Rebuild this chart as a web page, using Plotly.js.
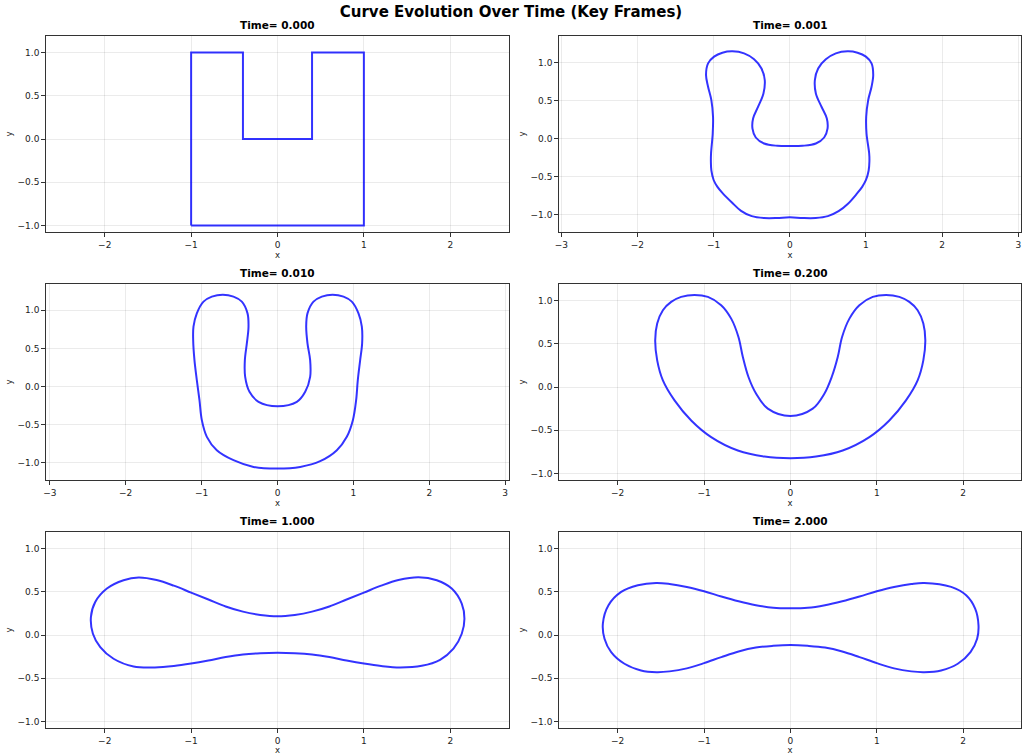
<!DOCTYPE html>
<html>
<head>
<meta charset="utf-8">
<script src="https://cdn.plot.ly/plotly-3.0.1.min.js"></script>
<style>html,body{margin:0;padding:0;background:#fff;}#chart{width:1022px;height:755px;}</style>
</head>
<body>
<div id="chart"></div>
<script>
// Key-frame times
const frameTitles = ["Time= 0.000", "Time= 0.001", "Time= 0.010", "Time= 0.200", "Time= 1.000", "Time= 2.000"];

// Frame t = 0.000
const x_t0000 = [-1, -1, -0.4, -0.4, 0.4, 0.4, 1, 1, 0, -1];
const y_t0000 = [-1, 1, 1, 0, 0, 1, 1, -1, -1, -1];

// Frame t = 0.001
const x_t0001 = [0, -0.17, -0.34, -0.5, -0.64, -0.76, -0.88, -0.95, -1.0, -1.03, -1.036, -1.034, -1.012, -1.008, -1.03, -1.073, -1.1, -1.073, -0.994, -0.885, -0.753, -0.6, -0.469, -0.372, -0.329, -0.346, -0.416, -0.482, -0.49, -0.447, -0.337, -0.162, 0, 0.166, 0.342, 0.451, 0.495, 0.486, 0.416, 0.342, 0.329, 0.372, 0.473, 0.604, 0.758, 0.889, 0.999, 1.073, 1.095, 1.073, 1.029, 1.003, 1.007, 1.042, 1.045, 1.035, 1.0, 0.95, 0.88, 0.76, 0.64, 0.5, 0.34, 0.17, 0];
const y_t0001 = [-1.035, -1.045, -1.045, -1.02, -0.95, -0.84, -0.72, -0.635, -0.545, -0.42, -0.30, -0.197, 0.066, 0.285, 0.504, 0.68, 0.833, 0.987, 1.075, 1.127, 1.145, 1.118, 1.04, 0.92, 0.768, 0.592, 0.417, 0.263, 0.13, 0.013, -0.066, -0.096, -0.1, -0.096, -0.066, 0.013, 0.13, 0.263, 0.417, 0.592, 0.768, 0.92, 1.04, 1.118, 1.145, 1.127, 1.075, 0.987, 0.833, 0.68, 0.504, 0.285, 0.066, -0.197, -0.30, -0.42, -0.545, -0.635, -0.725, -0.86, -0.955, -1.02, -1.045, -1.045, -1.035];

// Frame t = 0.010
const x_t0010 = [0, -0.316, -0.58, -0.8, -0.931, -0.997, -1.028, -1.063, -1.094, -1.111, -1.107, -1.063, -0.975, -0.865, -0.72, -0.58, -0.47, -0.395, -0.382, -0.404, -0.43, -0.426, -0.369, -0.25, 0, 0.255, 0.365, 0.43, 0.43, 0.395, 0.378, 0.395, 0.474, 0.584, 0.725, 0.87, 0.979, 1.067, 1.111, 1.115, 1.089, 1.058, 1.036, 0.993, 0.913, 0.782, 0.562, 0.299, 0];
const y_t0010 = [-1.079, -1.057, -0.969, -0.838, -0.662, -0.443, -0.18, 0.083, 0.346, 0.61, 0.785, 0.96, 1.114, 1.18, 1.206, 1.18, 1.114, 0.96, 0.785, 0.566, 0.346, 0.127, -0.07, -0.202, -0.259, -0.202, -0.07, 0.127, 0.346, 0.566, 0.785, 0.96, 1.114, 1.18, 1.206, 1.18, 1.114, 0.96, 0.785, 0.566, 0.346, 0.083, -0.18, -0.443, -0.662, -0.838, -0.982, -1.057, -1.079];

// Frame t = 0.200
const x_t0200 = [0, -0.301, -0.609, -0.918, -1.149, -1.342, -1.477, -1.543, -1.566, -1.543, -1.477, -1.381, -1.265, -1.111, -0.956, -0.802, -0.686, -0.602, -0.551, -0.486, -0.397, -0.262, 0, 0.258, 0.393, 0.478, 0.548, 0.598, 0.683, 0.798, 0.953, 1.107, 1.261, 1.377, 1.473, 1.539, 1.562, 1.539, 1.473, 1.338, 1.145, 0.914, 0.605, 0.297, 0];
const y_t0200 = [-0.822, -0.803, -0.733, -0.578, -0.386, -0.154, 0.077, 0.308, 0.54, 0.733, 0.887, 0.983, 1.041, 1.064, 1.041, 0.945, 0.79, 0.578, 0.347, 0.116, -0.077, -0.25, -0.335, -0.25, -0.077, 0.116, 0.347, 0.578, 0.79, 0.945, 1.041, 1.064, 1.041, 0.983, 0.887, 0.733, 0.54, 0.308, 0.077, -0.154, -0.386, -0.578, -0.733, -0.803, -0.822];

// Frame t = 1.000
const x_t1000 = [0, -0.2, -0.4, -0.6, -0.8, -1.0, -1.2, -1.4, -1.608, -1.782, -1.975, -2.11, -2.16, -2.137, -2.052, -1.898, -1.666, -1.42, -1.2, -1.0, -0.8, -0.6, -0.4, -0.2, 0, 0.2, 0.4, 0.6, 0.8, 1.0, 1.2, 1.42, 1.67, 1.882, 2.037, 2.133, 2.164, 2.133, 2.017, 1.844, 1.632, 1.4, 1.2, 1.0, 0.8, 0.6, 0.4, 0.2, 0];
const y_t1000 = [0.216, 0.232, 0.27, 0.33, 0.41, 0.49, 0.57, 0.635, 0.664, 0.633, 0.537, 0.382, 0.208, 0.015, -0.139, -0.274, -0.363, -0.374, -0.358, -0.33, -0.295, -0.255, -0.225, -0.21, -0.205, -0.21, -0.225, -0.255, -0.295, -0.33, -0.358, -0.374, -0.355, -0.286, -0.158, 0.015, 0.189, 0.363, 0.537, 0.633, 0.668, 0.635, 0.57, 0.49, 0.41, 0.33, 0.27, 0.232, 0.216];

// Frame t = 2.000
const x_t2000 = [0, -0.2, -0.4, -0.6, -0.8, -1.0, -1.2, -1.4, -1.555, -1.767, -1.96, -2.107, -2.172, -2.153, -2.076, -1.922, -1.73, -1.55, -1.4, -1.2, -1.0, -0.8, -0.6, -0.4, -0.2, 0, 0.2, 0.4, 0.6, 0.8, 1.0, 1.2, 1.4, 1.55, 1.745, 1.938, 2.085, 2.162, 2.178, 2.139, 2.035, 1.861, 1.55, 1.4, 1.2, 1.0, 0.8, 0.6, 0.4, 0.2, 0];
const y_t2000 = [0.309, 0.315, 0.345, 0.39, 0.445, 0.505, 0.555, 0.59, 0.602, 0.575, 0.498, 0.344, 0.131, -0.042, -0.197, -0.332, -0.409, -0.429, -0.42, -0.385, -0.325, -0.255, -0.19, -0.145, -0.125, -0.116, -0.125, -0.145, -0.19, -0.255, -0.325, -0.385, -0.42, -0.429, -0.409, -0.332, -0.197, -0.042, 0.112, 0.305, 0.459, 0.556, 0.602, 0.59, 0.555, 0.505, 0.445, 0.39, 0.345, 0.315, 0.309];

// Axis tick values
const xTicksNarrow = [-2, -1, 0, 1, 2];
const xTicksWide = [-3, -2, -1, 0, 1, 2, 3];
const yTicks = [-1.0, -0.5, 0.0, 0.5, 1.0];

const frames = [
  {x: x_t0000, y: y_t0000, shape: 'linear'},
  {x: x_t0001, y: y_t0001, shape: 'spline'},
  {x: x_t0010, y: y_t0010, shape: 'spline'},
  {x: x_t0200, y: y_t0200, shape: 'spline'},
  {x: x_t1000, y: y_t1000, shape: 'spline'},
  {x: x_t2000, y: y_t2000, shape: 'spline'}
];

const W = 1022, H = 755;
const cols = [[46, 509], [559, 1021]];
const rows = [[36, 232], [284, 480], [532, 728]];
const xRanges = [[-2.68, 2.68], [-3.03, 3.035], [-3.05, 3.05], [-2.68, 2.67], [-2.68, 2.68], [-2.68, 2.67]];
const yRanges = [[-1.074, 1.19], [-1.228, 1.346], [-1.229, 1.346], [-1.074, 1.19], [-1.074, 1.19], [-1.074, 1.19]];
const xTickSets = [xTicksNarrow, xTicksWide, xTicksWide, xTicksNarrow, xTicksNarrow, xTicksNarrow];

const font = 'DejaVu Sans, Arial, sans-serif';
const data = [];
const layout = {
  width: W, height: H, autosize: false,
  margin: {l: 0, r: 0, t: 0, b: 0},
  paper_bgcolor: '#ffffff', plot_bgcolor: '#ffffff',
  showlegend: false,
  font: {family: font, size: 9, color: '#222'},
  title: {text: '<b>Curve Evolution Over Time (Key Frames)</b>', x: 0.5, xanchor: 'center', y: 1 - 12 / H, yanchor: 'middle', yref: 'container',
          font: {family: font, size: 15, color: '#000'}},
  annotations: []
};

frames.forEach((f, i) => {
  const r = Math.floor(i / 2), c = i % 2;
  const n = i + 1;
  const xa = 'x' + (n === 1 ? '' : n), ya = 'y' + (n === 1 ? '' : n);
  data.push({x: f.x, y: f.y, type: 'scatter', mode: 'lines', xaxis: xa, yaxis: ya,
    line: {color: 'rgba(0,0,255,0.8)', width: 2, shape: f.shape, smoothing: 1}, hoverinfo: 'skip'});
  const xd = [cols[c][0] / W, cols[c][1] / W];
  const yd = [1 - rows[r][1] / H, 1 - rows[r][0] / H];
  const common = {
    showline: true, mirror: true, linecolor: '#333', linewidth: 1.3,
    ticks: 'outside', ticklen: 3.5, tickwidth: 1, tickcolor: '#333',
    showgrid: true, gridcolor: 'rgba(0,0,0,0.1)', gridwidth: 0.8,
    zeroline: false, tickfont: {family: font, size: 9, color: '#222'}, fixedrange: true
  };
  layout['xaxis' + (n === 1 ? '' : n)] = Object.assign({}, common, {
    domain: xd, anchor: ya, range: xRanges[i], tickmode: 'array', tickvals: xTickSets[i],
    ticktext: xTickSets[i].map(v => (v < 0 ? '\u2212' + Math.abs(v) : String(v))),
    title: {text: 'x', font: {family: font, size: 8.5, color: '#222'}, standoff: 2}
  });
  layout['yaxis' + (n === 1 ? '' : n)] = Object.assign({}, common, {
    domain: yd, anchor: xa, range: yRanges[i], tickmode: 'array', tickvals: yTicks,
    ticktext: yTicks.map(v => (v < 0 ? '\u2212' + Math.abs(v).toFixed(1) : v.toFixed(1))),
    title: {text: 'y', font: {family: font, size: 8.5, color: '#222'}, standoff: 3}
  });
  layout.annotations.push({
    text: '<b>' + frameTitles[i] + '</b>', xref: 'paper', yref: 'paper',
    x: (xd[0] + xd[1]) / 2, y: yd[1] + 3 / H, xanchor: 'center', yanchor: 'bottom', showarrow: false,
    font: {family: font, size: 10.5, color: '#000'}
  });
});

Plotly.newPlot('chart', data, layout, {staticPlot: true, displayModeBar: false});
</script>
</body>
</html>
